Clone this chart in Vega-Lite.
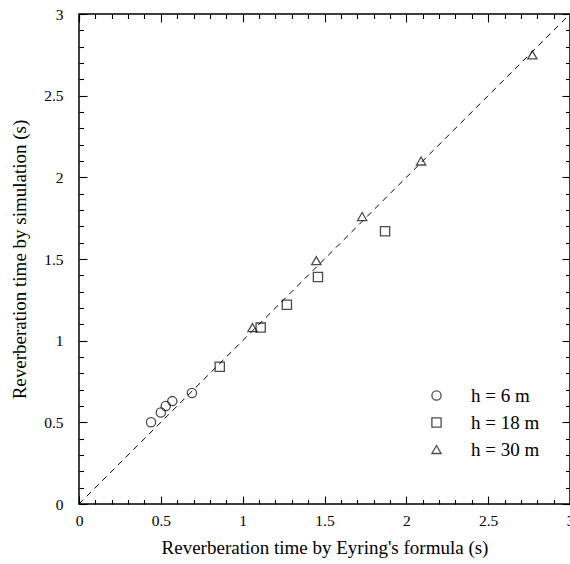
{
  "$schema": "https://vega.github.io/schema/vega-lite/v6.json",
  "autosize": {"type": "none"},
  "padding": {"left": 79, "top": 14, "right": 0, "bottom": 60},
  "width": 491,
  "height": 490,
  "background": "white",
  "config": {
    "font": "Liberation Serif",
    "view": {"stroke": "black", "strokeWidth": 1.5},
    "axis": {"grid": false, "domain": false, "tickColor": "black", "tickWidth": 1.1, "labelColor": "black", "titleColor": "black", "titleFontWeight": "normal"}
  },
  "datasets": {
    "rt": [
      {"eyring": 0.44, "sim": 0.50, "h": "h = 6 m"},
      {"eyring": 0.50, "sim": 0.56, "h": "h = 6 m"},
      {"eyring": 0.53, "sim": 0.60, "h": "h = 6 m"},
      {"eyring": 0.57, "sim": 0.63, "h": "h = 6 m"},
      {"eyring": 0.69, "sim": 0.68, "h": "h = 6 m"},
      {"eyring": 0.86, "sim": 0.84, "h": "h = 18 m"},
      {"eyring": 1.11, "sim": 1.08, "h": "h = 18 m"},
      {"eyring": 1.27, "sim": 1.22, "h": "h = 18 m"},
      {"eyring": 1.46, "sim": 1.39, "h": "h = 18 m"},
      {"eyring": 1.87, "sim": 1.67, "h": "h = 18 m"},
      {"eyring": 1.06, "sim": 1.08, "h": "h = 30 m"},
      {"eyring": 1.45, "sim": 1.49, "h": "h = 30 m"},
      {"eyring": 1.73, "sim": 1.76, "h": "h = 30 m"},
      {"eyring": 2.09, "sim": 2.10, "h": "h = 30 m"},
      {"eyring": 2.77, "sim": 2.75, "h": "h = 30 m"}
    ],
    "diag": [{"t": 0}, {"t": 3}]
  },
  "layer": [
    {
      "data": {"name": "diag"},
      "mark": {"type": "line", "color": "black", "strokeWidth": 1, "strokeDash": [6, 5], "clip": true},
      "encoding": {
        "x": {"field": "t", "type": "quantitative", "scale": {"domain": [0, 3], "nice": false},
          "axis": {"orient": "bottom", "values": [0, 0.5, 1, 1.5, 2, 2.5, 3], "format": "~g", "ticks": false, "labelPadding": 9, "labelFontSize": 15.5, "labelFlush": false, "labelOverlap": false,
            "title": "Reverberation time by Eyring's formula (s)", "titleFontSize": 19, "titlePadding": 10}},
        "y": {"field": "t", "type": "quantitative", "scale": {"domain": [0, 3], "nice": false},
          "axis": {"orient": "left", "values": [0, 0.5, 1, 1.5, 2, 2.5, 3], "format": "~g", "ticks": false, "labelPadding": 16, "labelFontSize": 15.5, "labelFlush": false, "labelOverlap": false,
            "title": "Reverberation time by simulation (s)", "titleFontSize": 19, "titlePadding": 14}}
      }
    },
    {
      "data": {"name": "rt"},
      "mark": {"type": "point", "filled": false, "color": "black", "strokeWidth": 1.3, "size": 85},
      "encoding": {
        "x": {"field": "eyring", "type": "quantitative", "scale": {"domain": [0, 3], "nice": false},
          "axis": {"orient": "bottom", "values": [0, 0.5, 1, 1.5, 2, 2.5, 3], "labels": false, "title": null, "tickSize": 8, "offset": -8}},
        "y": {"field": "sim", "type": "quantitative", "scale": {"domain": [0, 3], "nice": false},
          "axis": {"orient": "left", "values": [0, 0.5, 1, 1.5, 2, 2.5, 3], "labels": false, "title": null, "tickSize": 8, "offset": -8}},
        "shape": {"field": "h", "type": "nominal",
          "scale": {"domain": ["h = 6 m", "h = 18 m", "h = 30 m"], "range": ["circle", "square", "triangle-up"]},
          "legend": {"orient": "none", "legendX": 348, "legendY": 372, "title": null, "labelFontSize": 19, "labelColor": "black", "labelOffset": 25, "rowPadding": 7, "symbolSize": 85, "symbolStrokeWidth": 1.3, "symbolStrokeColor": "black"}}
      }
    },
    {
      "data": {"name": "rt"},
      "mark": {"type": "point", "opacity": 0},
      "encoding": {
        "x": {"field": "eyring", "type": "quantitative", "scale": {"domain": [0, 3], "nice": false},
          "axis": {"orient": "bottom", "values": [0, 0.1, 0.2, 0.3, 0.4, 0.6, 0.7, 0.8, 0.9, 1.1, 1.2, 1.3, 1.4, 1.6, 1.7, 1.8, 1.9, 2.1, 2.2, 2.3, 2.4, 2.6, 2.7, 2.8, 2.9], "labels": false, "title": null, "tickSize": 4.5, "offset": -4.5}},
        "y": {"field": "sim", "type": "quantitative", "scale": {"domain": [0, 3], "nice": false},
          "axis": {"orient": "left", "values": [0, 0.1, 0.2, 0.3, 0.4, 0.6, 0.7, 0.8, 0.9, 1.1, 1.2, 1.3, 1.4, 1.6, 1.7, 1.8, 1.9, 2.1, 2.2, 2.3, 2.4, 2.6, 2.7, 2.8, 2.9], "labels": false, "title": null, "tickSize": 4.5, "offset": -4.5}}
      }
    },
    {
      "data": {"name": "rt"},
      "mark": {"type": "point", "opacity": 0},
      "encoding": {
        "x": {"field": "eyring", "type": "quantitative", "scale": {"domain": [0, 3], "nice": false},
          "axis": {"orient": "top", "values": [0, 0.5, 1, 1.5, 2, 2.5, 3], "labels": false, "title": null, "tickSize": 8, "offset": -8}},
        "y": {"field": "sim", "type": "quantitative", "scale": {"domain": [0, 3], "nice": false},
          "axis": {"orient": "right", "values": [0, 0.5, 1, 1.5, 2, 2.5, 3], "labels": false, "title": null, "tickSize": 8, "offset": -8}}
      }
    },
    {
      "data": {"name": "rt"},
      "mark": {"type": "point", "opacity": 0},
      "encoding": {
        "x": {"field": "eyring", "type": "quantitative", "scale": {"domain": [0, 3], "nice": false},
          "axis": {"orient": "top", "values": [0, 0.1, 0.2, 0.3, 0.4, 0.6, 0.7, 0.8, 0.9, 1.1, 1.2, 1.3, 1.4, 1.6, 1.7, 1.8, 1.9, 2.1, 2.2, 2.3, 2.4, 2.6, 2.7, 2.8, 2.9], "labels": false, "title": null, "tickSize": 4.5, "offset": -4.5}},
        "y": {"field": "sim", "type": "quantitative", "scale": {"domain": [0, 3], "nice": false},
          "axis": {"orient": "right", "values": [0, 0.1, 0.2, 0.3, 0.4, 0.6, 0.7, 0.8, 0.9, 1.1, 1.2, 1.3, 1.4, 1.6, 1.7, 1.8, 1.9, 2.1, 2.2, 2.3, 2.4, 2.6, 2.7, 2.8, 2.9], "labels": false, "title": null, "tickSize": 4.5, "offset": -4.5}}
      }
    }
  ],
  "resolve": {"axis": {"x": "independent", "y": "independent"}}
}
